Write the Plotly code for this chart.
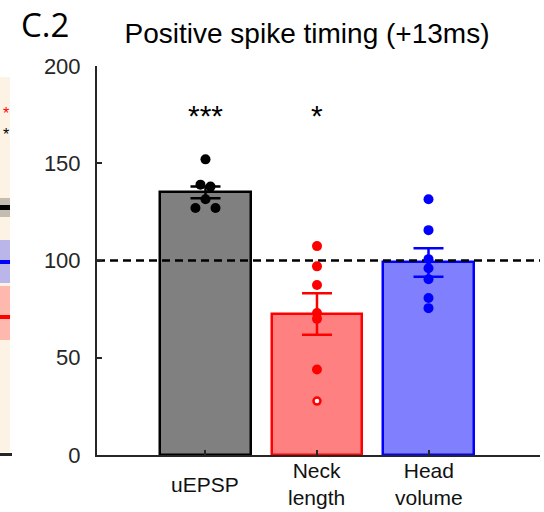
import plotly.graph_objects as go

# ---- data ----
categories = ["uEPSP", "Neck<br>length", "Head<br>volume"]
means = [135.0, 72.5, 99.0]
sems = [3.0, 10.7, 7.3]
points_uepsp = [152, 139, 138, 131.5, 127, 127]
jitter_uepsp = [0.0, -0.045, 0.045, 0.0, -0.09, 0.09]
points_neck = [107.4, 97, 87.4, 73, 70, 44]
points_neck_open = [27.7]
points_head = [131.5, 115.6, 100.7, 96, 90.4, 80.7, 75.5]
significance = ["***", "*", ""]
reference_level = 100
y_ticks = [0, 50, 100, 150, 200]

fills = ["#808080", "#FF8080", "#8080FF"]
edges = ["#000000", "#FF0000", "#0000FF"]
x_range = [-0.973, 3.0]

fig = go.Figure()

# bars with error bars
for i in range(3):
    fig.add_trace(go.Bar(
        x=[i], y=[means[i]], width=0.81,
        marker=dict(color=fills[i], line=dict(color=edges[i], width=2.5)),
        error_y=dict(type="data", array=[sems[i]], color=edges[i],
                     thickness=2.5, width=15),
        showlegend=False, hoverinfo="skip"))

# dashed reference line (between bars and dots)
fig.add_trace(go.Scatter(
    x=[x_range[0], x_range[1] + 0.04], y=[reference_level, reference_level],
    mode="lines", line=dict(color="black", width=2.5, dash="8px,5px"),
    cliponaxis=False, showlegend=False, hoverinfo="skip"))

# individual points
fig.add_trace(go.Scatter(
    x=[0 + j for j in jitter_uepsp], y=points_uepsp, mode="markers",
    marker=dict(color="black", size=10), showlegend=False, cliponaxis=False))
fig.add_trace(go.Scatter(
    x=[1] * len(points_neck), y=points_neck, mode="markers",
    marker=dict(color="#FF0000", size=10), showlegend=False))
fig.add_trace(go.Scatter(
    x=[1] * len(points_neck_open), y=points_neck_open, mode="markers",
    marker=dict(color="white", size=7, line=dict(color="#FF0000", width=2.5)),
    showlegend=False))
fig.add_trace(go.Scatter(
    x=[2] * len(points_head), y=points_head, mode="markers",
    marker=dict(color="#0000FF", size=10), showlegend=False))

axis_col = "#262626"
fig.update_layout(
    width=544, height=512,
    margin=dict(l=97, r=4, t=66, b=57),
    paper_bgcolor="white", plot_bgcolor="white",
    font=dict(family="Liberation Sans, Arial, sans-serif", color=axis_col),
    title=dict(text="Positive spike timing (+13ms)", x=307 / 544, xanchor="center",
               y=1 - 33 / 512, yanchor="middle",
               font=dict(family="Liberation Sans, Arial, sans-serif",
                         size=28, color="black")),
    bargap=0,
    xaxis=dict(range=x_range, showline=True, linecolor=axis_col, linewidth=2,
               ticks="inside", ticklen=5, tickwidth=2, tickcolor=axis_col,
               tickvals=[0, 1, 2, 3], showticklabels=False,
               showgrid=False, zeroline=False, fixedrange=True),
    yaxis=dict(range=[0, 200], showline=True, linecolor=axis_col, linewidth=2,
               ticks="inside", ticklen=5, tickwidth=2, tickcolor=axis_col,
               tickvals=y_ticks, tickfont=dict(size=22, color=axis_col),
               ticklabelstandoff=10,
               showgrid=False, zeroline=False),
)

# category labels and significance stars
for i, c in enumerate(categories):
    fig.add_annotation(x=i, xref="x", y=-29 / 389, yref="paper", text=c,
                       showarrow=False, yanchor="middle",
                       font=dict(size=21, color="#111111"))
    if significance[i]:
        fig.add_annotation(x=i, xref="x", y=(455 - 115) / 389, yref="paper",
                           text=significance[i], showarrow=False, yanchor="middle",
                           font=dict(size=30, color="black"))

# panel label
fig.add_annotation(x=(19 - 97) / 443, xref="paper", y=(455 - 25) / 389, yref="paper",
                   text="C.2", showarrow=False, xanchor="left", yanchor="middle",
                   font=dict(family="Open Sans, sans-serif", size=33, color="black"))

# fragment of neighbouring panel at the left edge
def px(x):
    return (x - 97) / 443

def py(y):
    return (455 - y) / 389

frag = [
    (0, 77, 10, 452, "#FDF3E4"),
    (0, 198, 10, 217, "#C4BCB0"),
    (0, 205, 10, 210, "#000000"),
    (0, 240, 10, 283, "#BBB6EA"),
    (0, 260, 10, 264, "#0000FF"),
    (0, 286, 10, 340, "#FFB8AE"),
    (0, 315, 10, 319, "#FF0000"),
    (0, 453, 12, 456, "#262626"),
]
for x0, y0, x1, y1, col in frag:
    fig.add_shape(type="rect", xref="paper", yref="paper",
                  x0=px(x0), x1=px(x1), y0=py(y1), y1=py(y0),
                  fillcolor=col, line=dict(width=0), layer="above")
fig.add_annotation(x=px(1), xref="paper", y=py(124), yref="paper",
                   text="<span style='color:#FF0000'>*</span><br>*",
                   showarrow=False, yanchor="middle",
                   font=dict(size=16, color="black"))

fig.write_html("out.html")
